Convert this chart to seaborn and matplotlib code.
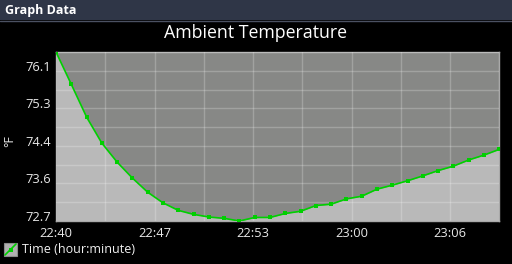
import matplotlib
matplotlib.use('Agg')
import matplotlib.pyplot as plt
import seaborn as sns
import pandas as pd
from matplotlib.patches import Rectangle
from matplotlib.lines import Line2D

sns.set_style('dark')
plt.rcParams['font.family'] = ['Open Sans', 'DejaVu Sans']

# ---- data ----
elapsed_s = [0, 61, 122, 183, 244, 305, 366, 427, 488, 549, 610, 671, 732, 793, 854,
             915, 976, 1037, 1098, 1159, 1220, 1281, 1342, 1403, 1464, 1525, 1586,
             1647, 1708, 1769]
temp_f = [76.52, 75.79, 75.05, 74.46, 74.03, 73.67, 73.35, 73.11, 72.94, 72.85,
          72.79, 72.76, 72.70, 72.78, 72.78, 72.87, 72.92, 73.05, 73.08, 73.20,
          73.26, 73.42, 73.51, 73.61, 73.72, 73.84, 73.94, 74.08, 74.19, 74.32]
x_tick_labels = ['22:40', '22:47', '22:53', '23:00', '23:06']
y_tick_labels = ['72.7', '73.6', '74.4', '75.3', '76.1']

df = pd.DataFrame({'minutes': [s / 60 for s in elapsed_s], 'temp': temp_f})

W, H = 512, 264
fig = plt.figure(figsize=(W / 100, H / 100), dpi=100, facecolor='black')

# title bar
fig.add_artist(Rectangle((0, 1 - 20 / H), 1, 20 / H, transform=fig.transFigure,
                         facecolor='#2f3647', edgecolor='none'))
fig.add_artist(Line2D([0, 1], [1 - 20.5 / H] * 2, transform=fig.transFigure,
                      color='#4b5162', lw=1))
fig.text(5 / W, 1 - 10.5 / H, 'Graph Data', color='white', fontsize=9,
         fontweight='bold', va='center', ha='left')

L, R, T, B = 56, 499.3, 52, 221
ax = fig.add_axes([L / W, 1 - B / H, (R - L) / W, (B - T) / H])
ax.set_facecolor('#878886')

xmin, xmax = df['minutes'].min(), df['minutes'].max()
ymin, ymax = df['temp'].min(), df['temp'].max()

ax.fill_between(df['minutes'], df['temp'], ymin, color='#b9b9b9', lw=0, zorder=1)
sns.lineplot(data=df, x='minutes', y='temp', ax=ax, color='#00d000', lw=1.2,
             marker='s', markersize=3, markeredgewidth=0, zorder=3)

ax.set_xlim(xmin, xmax)
ax.set_ylim(ymin, ymax)

xt = [xmin + (xmax - xmin) * k * 2 / 9 for k in range(5)]
yt = [ymin + (ymax - ymin) * k * 2 / 9 for k in range(5)]
xm = [xmin + (xmax - xmin) * (2 * k + 1) / 9 for k in range(5)]
ym = [ymin + (ymax - ymin) * (2 * k + 1) / 9 for k in range(5)]
ax.set_xticks(xt)
ax.set_xticklabels(x_tick_labels)
ax.set_yticks(yt)
ax.set_yticklabels(y_tick_labels)
ax.set_xticks(xm, minor=True)
ax.set_yticks(ym, minor=True)

ax.grid(True, which='both', color='white', alpha=0.22, lw=1, zorder=2)
ax.set_axisbelow(False)

ax.tick_params(axis='both', which='major', colors='#a0a0a0', labelcolor='#e8e8e8',
               labelsize=9.3, length=2.5, width=1, direction='out')
ax.tick_params(axis='x', which='major', pad=2)
ax.tick_params(axis='y', which='major', pad=1)
ax.tick_params(which='minor', length=0)
for lbl in ax.get_yticklabels():
    lbl.set_va('baseline')

for s in ax.spines.values():
    s.set_visible(True)
    s.set_color('#a9a9a9')
    s.set_linewidth(1)

ax.set_xlabel('')
ax.set_ylabel('')

fig.text(256 / W, 1 - 33 / H, 'Ambient Temperature', color='white', fontsize=12.8,
         ha='center', va='center')
fig.text(10 / W, 1 - 141 / H, '°F', color='#e8e8e8', fontsize=9, rotation=90,
         ha='center', va='center')

# legend-like x label
fig.add_artist(Rectangle((4 / W, 1 - 256 / H), 13 / W, 13 / H, transform=fig.transFigure,
                         facecolor='#b0b0b0', edgecolor='#8a8a8a', lw=0.8))
fig.add_artist(Line2D([5 / W, 16 / W], [1 - 255 / H, 1 - 244 / H], transform=fig.transFigure,
                      color='#00d000', lw=1.2))
fig.add_artist(Line2D([10.5 / W], [1 - 249.5 / H], transform=fig.transFigure,
                      color='#00d000', marker='s', markersize=3, markeredgewidth=0, lw=0))
fig.text(22 / W, 1 - 249.5 / H, 'Time (hour:minute)', color='#f0f0f0', fontsize=9,
         ha='left', va='center')

fig.savefig('out.png', dpi=100, facecolor='black')
